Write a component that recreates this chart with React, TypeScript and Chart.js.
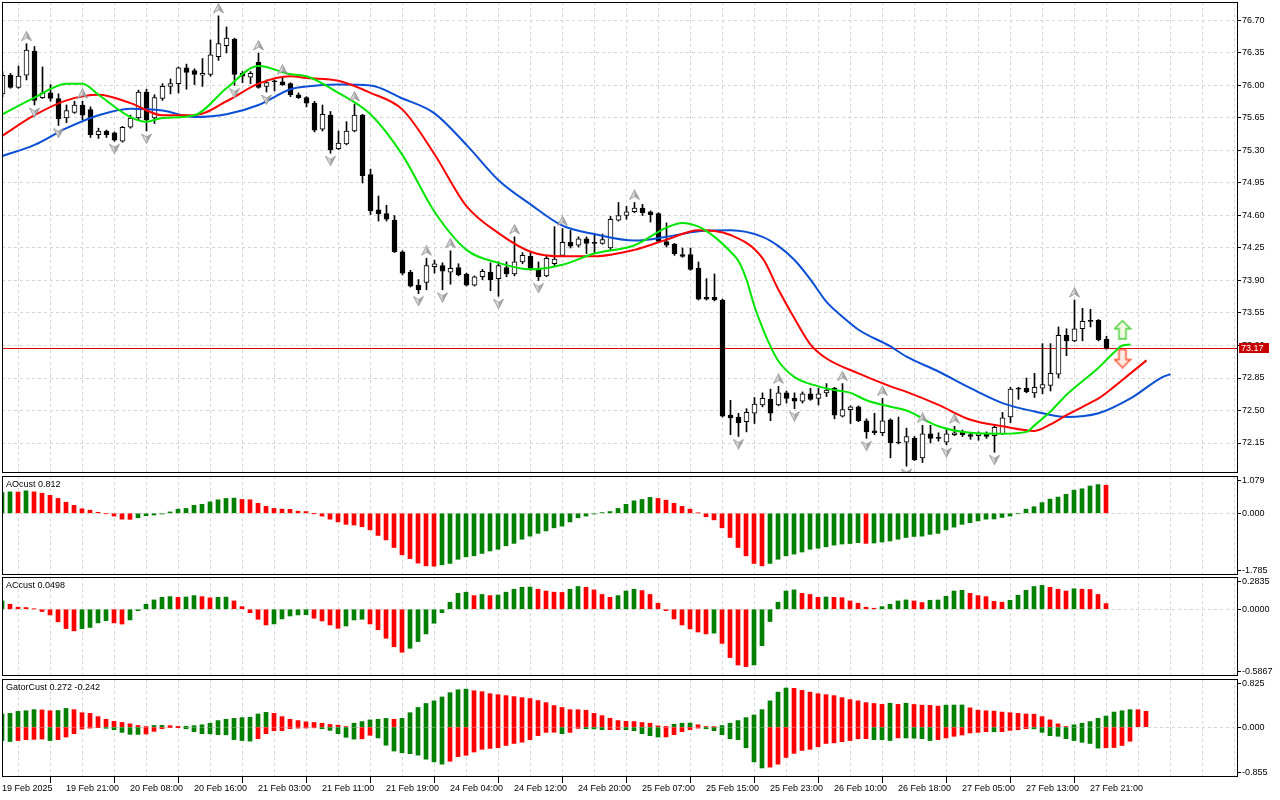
import { useEffect, useRef } from "react";
import { Chart, registerables } from "chart.js";

Chart.register(...registerables);

// ---- time axis (hourly bars, a label every 8 bars, grid every 4) ----
const timeLabels = [
  "19 Feb 2025", "19 Feb 21:00", "20 Feb 08:00", "20 Feb 16:00", "21 Feb 03:00",
  "21 Feb 11:00", "21 Feb 19:00", "24 Feb 04:00", "24 Feb 12:00", "24 Feb 20:00",
  "25 Feb 07:00", "25 Feb 15:00", "25 Feb 23:00", "26 Feb 10:00", "26 Feb 18:00",
  "27 Feb 05:00", "27 Feb 13:00", "27 Feb 21:00",
];
const LABEL_STEP = 8;
const GRID_STEP = 4;

// ---- candles ----
const opens = [
  75.91, 76.11, 75.98, 76.11, 76.37, 75.87, 75.92, 75.86, 75.65, 75.71,
  75.79, 75.74, 75.47, 75.51, 75.49, 75.40, 75.55, 75.65, 75.93, 75.65,
  75.86, 75.99, 76.02, 76.19, 76.16, 76.11, 76.12, 76.31, 76.43, 76.50,
  76.13, 76.09, 76.25, 75.99, 76.04, 76.04, 76.02, 75.90, 75.87, 75.81,
  75.53, 75.68, 75.32, 75.37, 75.51, 75.68, 75.04, 74.66, 74.62, 74.55,
  74.21, 73.99, 73.85, 73.88, 74.05, 74.06, 73.99, 74.04, 73.97, 73.85,
  73.94, 73.99, 73.92, 74.04, 73.97, 74.10, 74.16, 74.03, 73.95, 74.08,
  74.17, 74.31, 74.28, 74.35, 74.31, 74.30, 74.25, 74.55, 74.60, 74.64,
  74.68, 74.64, 74.62, 74.32, 74.29, 74.18, 74.18, 74.03, 73.72, 73.72,
  73.69, 72.45, 72.43, 72.38, 72.47, 72.56, 72.62, 72.56, 72.69, 72.63,
  72.60, 72.68, 72.63, 72.69, 72.74, 72.44, 72.51, 72.54, 72.39, 72.28,
  72.26, 72.40, 72.16, 72.16, 72.20, 71.99, 72.25, 72.20, 72.16, 72.24,
  72.27, 72.24, 72.23, 72.25, 72.23, 72.25, 72.43, 72.73, 72.74, 72.69,
  72.74, 72.77, 72.89, 73.31, 73.25, 73.38, 73.47, 73.47, 73.27,
];
const highs = [
  76.15, 76.13, 76.21, 76.45, 76.42, 76.20, 76.01, 75.91, 75.79, 75.83,
  75.83, 75.77, 75.54, 75.52, 75.50, 75.56, 75.68, 75.95, 75.96, 75.90,
  76.02, 76.07, 76.20, 76.23, 76.18, 76.29, 76.49, 76.75, 76.63, 76.51,
  76.15, 76.15, 76.35, 76.06, 76.06, 76.09, 76.03, 75.92, 75.88, 75.83,
  75.79, 75.72, 75.51, 75.61, 75.80, 75.69, 75.10, 74.81, 74.71, 74.60,
  74.22, 74.01, 73.91, 74.14, 74.12, 74.09, 74.22, 74.08, 73.98, 73.95,
  74.02, 74.09, 74.10, 74.10, 74.37, 74.20, 74.20, 74.10, 74.16, 74.48,
  74.46, 74.44, 74.37, 74.37, 74.39, 74.40, 74.59, 74.74, 74.70, 74.74,
  74.72, 74.65, 74.63, 74.52, 74.30, 74.25, 74.25, 74.10, 73.92, 73.97,
  73.70, 72.61, 72.47, 72.52, 72.64, 72.69, 72.73, 72.76, 72.71, 72.69,
  72.70, 72.74, 72.74, 72.79, 72.75, 72.79, 72.55, 72.55, 72.41, 72.47,
  72.63, 72.41, 72.43, 72.31, 72.22, 72.34, 72.34, 72.26, 72.30, 72.33,
  72.29, 72.26, 72.27, 72.27, 72.35, 72.48, 72.75, 72.75, 72.85, 72.90,
  73.22, 73.22, 73.40, 73.38, 73.69, 73.60, 73.59, 73.48, 73.30,
];
const lows = [
  75.88, 75.97, 75.97, 76.06, 75.79, 75.86, 75.83, 75.57, 75.60, 75.70,
  75.63, 75.44, 75.43, 75.44, 75.40, 75.39, 75.54, 75.63, 75.51, 75.59,
  75.84, 75.91, 75.92, 75.96, 76.01, 75.99, 76.10, 76.27, 76.35, 76.00,
  76.03, 76.02, 75.97, 75.93, 75.94, 76.00, 75.88, 75.86, 75.77, 75.50,
  75.51, 75.27, 75.31, 75.36, 75.50, 74.95, 74.61, 74.54, 74.54, 74.20,
  73.96, 73.83, 73.76, 73.80, 73.98, 73.80, 73.86, 73.95, 73.84, 73.84,
  73.91, 73.79, 73.73, 73.94, 73.95, 74.08, 74.01, 73.90, 73.94, 74.05,
  74.16, 74.25, 74.26, 74.19, 74.19, 74.29, 74.23, 74.54, 74.56, 74.63,
  74.60, 74.53, 74.31, 74.26, 74.17, 74.15, 74.01, 73.69, 73.69, 73.68,
  72.43, 72.24, 72.22, 72.27, 72.36, 72.54, 72.39, 72.55, 72.58, 72.52,
  72.58, 72.61, 72.56, 72.65, 72.41, 72.43, 72.36, 72.38, 72.20, 72.24,
  72.23, 71.99, 72.14, 71.90, 71.96, 71.94, 72.15, 72.17, 72.13, 72.23,
  72.22, 72.19, 72.18, 72.20, 72.05, 72.24, 72.37, 72.62, 72.69, 72.64,
  72.68, 72.71, 72.85, 73.09, 73.24, 73.25, 73.40, 73.25, 73.16,
];
const closes = [
  76.11, 75.98, 76.10, 76.38, 75.84, 75.92, 75.86, 75.64, 75.73, 75.79,
  75.68, 75.47, 75.51, 75.47, 75.41, 75.55, 75.65, 75.93, 75.63, 75.87,
  75.99, 76.02, 76.19, 76.14, 76.12, 76.13, 76.33, 76.45, 76.51, 76.12,
  76.10, 76.13, 75.98, 76.03, 76.04, 76.01, 75.90, 75.87, 75.81, 75.52,
  75.69, 75.31, 75.38, 75.51, 75.68, 75.03, 74.65, 74.62, 74.56, 74.21,
  73.98, 73.84, 73.80, 74.06, 74.08, 74.00, 74.03, 73.96, 73.85, 73.94,
  74.00, 73.91, 74.06, 73.97, 74.10, 74.17, 74.03, 73.94, 74.14, 74.13,
  74.31, 74.27, 74.35, 74.30, 74.30, 74.34, 74.56, 74.60, 74.64, 74.68,
  74.63, 74.61, 74.32, 74.28, 74.19, 74.16, 74.02, 73.70, 73.70, 73.69,
  72.44, 72.42, 72.37, 72.48, 72.57, 72.63, 72.47, 72.69, 72.63, 72.60,
  72.68, 72.62, 72.68, 72.72, 72.45, 72.51, 72.54, 72.39, 72.27, 72.26,
  72.39, 72.15, 72.15, 72.22, 71.97, 72.25, 72.20, 72.20, 72.25, 72.26,
  72.24, 72.22, 72.25, 72.22, 72.32, 72.42, 72.73, 72.73, 72.70, 72.75,
  72.78, 72.90, 73.31, 73.25, 73.38, 73.46, 73.46, 73.26, 73.17,
];

// ---- alligator (bar index -> price) ----
const jawBars = [0, 4, 8, 12, 16, 20, 24, 28, 32, 36, 38, 42, 46, 50, 54, 58, 62, 66, 70, 74, 79, 83, 87, 91, 95, 97, 99, 101, 103, 105, 107, 111, 113, 117, 121, 125, 129, 133, 137, 141, 145, 146];
const jawPrices = [75.24, 75.36, 75.54, 75.68, 75.75, 75.73, 75.66, 75.69, 75.79, 75.96, 75.99, 76.01, 76.00, 75.86, 75.70, 75.36, 74.98, 74.72, 74.49, 74.40, 74.33, 74.37, 74.43, 74.44, 74.37, 74.27, 74.12, 73.91, 73.67, 73.51, 73.37, 73.19, 73.08, 72.92, 72.74, 72.58, 72.49, 72.43, 72.47, 72.63, 72.86, 72.89];
const teethBars = [0, 4, 8, 12, 16, 20, 24, 28, 32, 36, 38, 42, 46, 50, 54, 58, 62, 66, 70, 74, 79, 83, 87, 91, 95, 97, 99, 101, 103, 107, 111, 113, 117, 121, 125, 129, 131, 133, 135, 137, 139, 141, 143];
const teethPrices = [75.46, 75.68, 75.84, 75.90, 75.81, 75.68, 75.68, 75.83, 76.02, 76.10, 76.08, 76.05, 75.92, 75.74, 75.26, 74.70, 74.41, 74.21, 74.16, 74.16, 74.23, 74.34, 74.44, 74.39, 74.14, 73.80, 73.49, 73.21, 73.06, 72.90, 72.76, 72.70, 72.56, 72.40, 72.33, 72.28, 72.35, 72.45, 72.54, 72.63, 72.76, 72.90, 73.04];
const lipsBars = [0, 4, 8, 10, 12, 16, 18, 20, 24, 28, 32, 36, 38, 42, 46, 50, 54, 58, 62, 66, 70, 74, 79, 83, 85, 87, 89, 91, 92, 93, 94, 95, 96, 97, 99, 102, 104, 106, 108, 111, 113, 117, 121, 125, 128, 129, 131, 133, 137, 139, 140, 141];
const lipsPrices = [75.69, 75.87, 76.02, 76.02, 75.90, 75.66, 75.61, 75.65, 75.68, 75.97, 76.21, 76.12, 76.10, 75.92, 75.69, 75.25, 74.64, 74.23, 74.09, 74.02, 74.07, 74.19, 74.28, 74.47, 74.52, 74.48, 74.37, 74.21, 74.11, 73.91, 73.62, 73.39, 73.19, 73.03, 72.86, 72.76, 72.72, 72.69, 72.61, 72.54, 72.50, 72.33, 72.26, 72.25, 72.27, 72.34, 72.49, 72.67, 72.96, 73.13, 73.20, 73.21];

// ---- fractals and signal arrows ----
const fractalUpBars = [3, 10, 27, 32, 35, 44, 53, 56, 64, 70, 79, 97, 105, 110, 115, 119, 134];
const fractalDownBars = [4, 7, 14, 18, 29, 33, 41, 52, 55, 62, 67, 92, 99, 108, 113, 118, 124];
const signalBars = [140];
const signalUpPrices = [73.37];
const signalDownPrices = [73.06];

const priceTicks = [72.15, 72.5, 72.85, 73.2, 73.55, 73.9, 74.25, 74.6, 74.95, 75.3, 75.65, 76.0, 76.35, 76.7];

// ---- AO ----
const aoValues = [
  0.60, 0.62, 0.615, 0.65, 0.62, 0.58, 0.52, 0.43, 0.32, 0.23,
  0.13, 0.09, 0.03, -0.01, -0.08, -0.17, -0.175, -0.13, -0.07, -0.05,
  -0.02, 0.04, 0.12, 0.14, 0.23, 0.26, 0.33, 0.39, 0.43, 0.44,
  0.40, 0.39, 0.29, 0.20, 0.14, 0.12, 0.115, 0.06, 0.05, -0.005,
  -0.08, -0.17, -0.25, -0.32, -0.34, -0.39, -0.48, -0.64, -0.77, -0.99,
  -1.20, -1.31, -1.44, -1.52, -1.53, -1.49, -1.45, -1.33, -1.26, -1.23,
  -1.16, -1.09, -1.04, -0.94, -0.87, -0.75, -0.66, -0.58, -0.51, -0.42,
  -0.37, -0.25, -0.13, -0.08, -0.02, 0.02, 0.05, 0.14, 0.26, 0.36,
  0.40, 0.46, 0.43, 0.38, 0.29, 0.20, 0.12, 0.01, -0.10, -0.19,
  -0.42, -0.70, -0.99, -1.23, -1.45, -1.52, -1.45, -1.33, -1.23, -1.18,
  -1.12, -1.04, -1.01, -0.97, -0.92, -0.89, -0.875, -0.85, -0.87, -0.86,
  -0.83, -0.80, -0.75, -0.70, -0.67, -0.66, -0.61, -0.58, -0.48, -0.40,
  -0.32, -0.27, -0.22, -0.17, -0.165, -0.12, -0.08, -0.01, 0.12, 0.19,
  0.31, 0.41, 0.47, 0.55, 0.67, 0.71, 0.79, 0.83, 0.812,
];
const aoRange = [-1.785, 1.079];

// ---- AC ----
const acValues = [
  0.073, 0.044, 0.018, 0.015, 0.003, -0.02, -0.05, -0.11, -0.17, -0.19,
  -0.17, -0.16, -0.12, -0.10, -0.12, -0.13, -0.094, -0.012, 0.044, 0.082,
  0.105, 0.111, 0.105, 0.108, 0.12, 0.111, 0.10, 0.105, 0.107, 0.073,
  0.023, -0.03, -0.088, -0.138, -0.129, -0.085, -0.059, -0.05, -0.048, -0.079,
  -0.103, -0.138, -0.167, -0.147, -0.094, -0.088, -0.129, -0.18, -0.255, -0.33,
  -0.378, -0.343, -0.284, -0.217, -0.123, -0.03, 0.062, 0.14, 0.15, 0.12,
  0.13, 0.12, 0.125, 0.15, 0.176, 0.193, 0.195, 0.176, 0.16, 0.15,
  0.148, 0.176, 0.2, 0.193, 0.17, 0.13, 0.105, 0.12, 0.16, 0.176,
  0.164, 0.13, 0.053, -0.012, -0.085, -0.138, -0.173, -0.2, -0.217, -0.21,
  -0.3, -0.425, -0.49, -0.504, -0.49, -0.32, -0.108, 0.062, 0.16, 0.17,
  0.14, 0.13, 0.105, 0.108, 0.105, 0.102, 0.073, 0.053, 0.018, 0.009,
  0.023, 0.044, 0.073, 0.082, 0.073, 0.059, 0.079, 0.081, 0.114, 0.16,
  0.167, 0.14, 0.12, 0.111, 0.07, 0.062, 0.079, 0.123, 0.167, 0.2,
  0.21, 0.193, 0.176, 0.16, 0.18, 0.176, 0.174, 0.13, 0.0498,
];
const acRange = [-0.5867, 0.2835];

// ---- Gator (upper = |jaw - teeth|, lower = -|teeth - lips|) ----
const gatorUp = [
  0.225, 0.236, 0.27, 0.28, 0.30, 0.295, 0.28, 0.285, 0.32, 0.30,
  0.247, 0.236, 0.18, 0.135, 0.10, 0.08, 0.056, 0.028, 0.01, 0.028,
  0.03, 0.025, 0.012, 0.015, 0.025, 0.04, 0.067, 0.112, 0.135, 0.15,
  0.163, 0.17, 0.225, 0.253, 0.236, 0.18, 0.135, 0.112, 0.09, 0.08,
  0.067, 0.045, 0.034, 0.01, 0.067, 0.095, 0.124, 0.135, 0.15, 0.135,
  0.15, 0.247, 0.337, 0.405, 0.45, 0.517, 0.59, 0.64, 0.652, 0.624,
  0.607, 0.573, 0.556, 0.54, 0.523, 0.506, 0.49, 0.455, 0.42, 0.37,
  0.337, 0.30, 0.298, 0.29, 0.236, 0.197, 0.152, 0.112, 0.10, 0.095,
  0.079, 0.067, 0.022, 0.012, 0.05, 0.067, 0.07, 0.04, 0.011, 0.004,
  0.028, 0.067, 0.112, 0.163, 0.208, 0.30, 0.45, 0.60, 0.67, 0.665,
  0.63, 0.60, 0.573, 0.556, 0.54, 0.506, 0.472, 0.45, 0.42, 0.405,
  0.39, 0.41, 0.39, 0.41, 0.388, 0.377, 0.374, 0.36, 0.377, 0.379,
  0.38, 0.33, 0.29, 0.28, 0.275, 0.258, 0.247, 0.236, 0.225, 0.222,
  0.18, 0.124, 0.056, 0.011, 0.04, 0.067, 0.095, 0.152, 0.19, 0.258,
  0.28, 0.30, 0.298, 0.272,
];
const gatorDown = [
  -0.23, -0.247, -0.23, -0.214, -0.21, -0.205, -0.23, -0.214, -0.17, -0.112,
  -0.034, -0.017, -0.005, -0.02, -0.045, -0.09, -0.124, -0.125, -0.118, -0.073,
  -0.028, -0.006, -0.004, -0.028, -0.079, -0.112, -0.115, -0.13, -0.132, -0.214,
  -0.23, -0.24, -0.197, -0.112, -0.062, -0.06, -0.028, -0.017, -0.015, -0.012,
  -0.028, -0.056, -0.112, -0.174, -0.205, -0.2, -0.14, -0.185, -0.31, -0.41,
  -0.44, -0.455, -0.48, -0.55, -0.596, -0.635, -0.585, -0.506, -0.483, -0.427,
  -0.38, -0.365, -0.354, -0.315, -0.28, -0.258, -0.214, -0.146, -0.09, -0.088,
  -0.112, -0.09, -0.022, -0.028, -0.03, -0.045, -0.044, -0.043, -0.045, -0.062,
  -0.112, -0.146, -0.17, -0.168, -0.13, -0.079, -0.045, -0.017, -0.028, -0.062,
  -0.13, -0.2, -0.214, -0.354, -0.596, -0.70, -0.686, -0.635, -0.52, -0.45,
  -0.40, -0.38, -0.337, -0.28, -0.27, -0.25, -0.23, -0.20, -0.198, -0.214,
  -0.215, -0.23, -0.185, -0.186, -0.19, -0.197, -0.23, -0.214, -0.185, -0.157,
  -0.135, -0.10, -0.09, -0.079, -0.08, -0.078, -0.056, -0.045, -0.028, -0.03,
  -0.09, -0.146, -0.157, -0.197, -0.23, -0.26, -0.28, -0.36, -0.354, -0.35,
  -0.315, -0.242,
];
const gatorRange = [-0.855, 0.825];

// ---- look ----
const FONT = { family: "'Liberation Sans', Arial, sans-serif", size: 9 };
const GRID = "#d6d6d6";
const UP = "#008000";
const DOWN = "#ff0000";
const AXIS_W = 43;
const X_MIN = -0.0625;
const X_MAX = 154.3125;
const Y_MIN = 71.827;
const Y_MAX = 76.899;

const upDown = (vals: number[], mag = false) =>
  vals.map((v, i) => {
    if (i === 0) return UP;
    const a = mag ? Math.abs(v) : v;
    const b = mag ? Math.abs(vals[i - 1]) : vals[i - 1];
    return a > b ? UP : DOWN;
  });

const timeLabelAt = (v: number) =>
  v % LABEL_STEP === 0 ? timeLabels[v / LABEL_STEP] ?? "" : "";

// scales must not ask the layout for extra room around the plot
const noPad = (s: any) => {
  s.paddingTop = 0;
  s.paddingBottom = 0;
  s.paddingLeft = 0;
  s.paddingRight = 0;
};

function xAxis(withLabels: boolean, shift: number): any {
  return {
    type: "linear",
    min: X_MIN + shift,
    max: X_MAX + shift,
    offset: false,
    afterBuildTicks: (s: any) => {
      const t: any[] = [];
      for (let v = 0; v <= X_MAX; v += GRID_STEP) t.push({ value: v });
      s.ticks = t;
    },
    afterFit: (s: any) => {
      s.height = withLabels ? 23 : 0;
      noPad(s);
    },
    grid: {
      color: GRID,
      drawTicks: withLabels,
      tickLength: 6,
      tickColor: (c: any) =>
        c.tick && timeLabelAt(c.tick.value) !== "" ? "#000" : "rgba(0,0,0,0)",
      tickBorderDash: [],
    },
    border: { display: false, dash: [3, 3] },
    ticks: {
      display: withLabels,
      autoSkip: false,
      maxRotation: 0,
      minRotation: 0,
      align: "start",
      padding: 0,
      color: "#000",
      font: FONT,
      callback: (v: number) => timeLabelAt(v),
    },
  };
}

function subY(range: number[], digits: number): any {
  const [min, max] = range;
  return {
    type: "linear",
    position: "right",
    min,
    max,
    afterBuildTicks: (s: any) => {
      const inset = ((max - min) * 4.5) / 99;
      s.ticks = [{ value: min + inset }, { value: 0 }, { value: max - inset }];
    },
    afterFit: (s: any) => {
      s.width = AXIS_W;
      noPad(s);
    },
    grid: {
      color: (c: any) => (c.tick && c.tick.value === 0 ? GRID : "rgba(0,0,0,0)"),
      tickLength: 4,
      tickColor: "#000",
      tickBorderDash: [],
    },
    border: { display: false, dash: [3, 3] },
    ticks: {
      autoSkip: false,
      padding: 1,
      color: "#000",
      font: FONT,
      callback: (_v: number, i: number) => [min, 0, max][i].toFixed(digits),
    },
  };
}

const framePlugin = {
  id: "frame",
  afterDraw(chart: any) {
    const { ctx, chartArea: a } = chart;
    ctx.save();
    ctx.strokeStyle = "#000";
    ctx.lineWidth = 1;
    ctx.strokeRect(a.left + 0.5, a.top + 0.5, a.right - a.left, a.bottom - a.top - 1);
    ctx.restore();
  },
};

const titlePlugin = (text: string) => ({
  id: "panelTitle",
  afterDraw(chart: any) {
    const { ctx, chartArea: a } = chart;
    ctx.save();
    ctx.fillStyle = "#000";
    ctx.font = `${FONT.size}px ${FONT.family}`;
    ctx.textBaseline = "middle";
    ctx.fillText(text, a.left + 4, a.top + 9);
    ctx.restore();
  },
});

const lastClose = closes[closes.length - 1];

const lastPricePlugin = {
  id: "lastPrice",
  beforeDatasetsDraw(chart: any) {
    const { ctx, chartArea: a } = chart;
    const y = Math.round(chart.scales.y.getPixelForValue(lastClose)) + 0.5;
    ctx.save();
    ctx.strokeStyle = "#e00000";
    ctx.lineWidth = 1;
    ctx.beginPath();
    ctx.moveTo(a.left, y);
    ctx.lineTo(a.right, y);
    ctx.stroke();
    ctx.restore();
  },
  afterDraw(chart: any) {
    const { ctx, chartArea: a } = chart;
    const y = Math.round(chart.scales.y.getPixelForValue(lastClose));
    ctx.save();
    ctx.fillStyle = "#c80000";
    ctx.fillRect(a.right + 2, y - 5, 30, 10);
    ctx.fillStyle = "#fff";
    ctx.font = `${FONT.size}px ${FONT.family}`;
    ctx.textBaseline = "middle";
    ctx.fillText(lastClose.toFixed(2), a.right + 4, y + 0.5);
    ctx.restore();
  },
};

function fractalImage(up: boolean) {
  const c = document.createElement("canvas");
  c.width = 11;
  c.height = 26;
  const g = c.getContext("2d")!;
  if (!up) {
    g.translate(0, 26);
    g.scale(1, -1);
  }
  const shape = () => {
    g.beginPath();
    g.moveTo(5.5, 0.5);
    g.lineTo(10.5, 10);
    g.lineTo(5.5, 7);
    g.lineTo(0.5, 10);
    g.closePath();
  };
  shape();
  g.fillStyle = "#a6a6a6";
  g.fill();
  g.beginPath();
  g.moveTo(5.5, 0.5);
  g.lineTo(5.5, 7);
  g.lineTo(0.5, 10);
  g.closePath();
  g.fillStyle = "#dadada";
  g.fill();
  shape();
  g.strokeStyle = "#8a8a8a";
  g.lineWidth = 0.7;
  g.stroke();
  return c;
}

function signalImage(up: boolean, stroke: string, fill: string) {
  const c = document.createElement("canvas");
  c.width = 18;
  c.height = 20;
  const g = c.getContext("2d")!;
  if (!up) {
    g.translate(0, 20);
    g.scale(1, -1);
  }
  g.beginPath();
  g.moveTo(9, 1);
  g.lineTo(17, 9);
  g.lineTo(12.5, 9);
  g.lineTo(12.5, 19);
  g.lineTo(5.5, 19);
  g.lineTo(5.5, 9);
  g.lineTo(1, 9);
  g.closePath();
  g.fillStyle = fill;
  g.fill();
  g.strokeStyle = stroke;
  g.lineWidth = 1.5;
  g.stroke();
  return c;
}

const baseOptions = (padTop: number, padBottom: number): any => ({
  responsive: false,
  animation: false,
  events: [],
  layout: { autoPadding: false, padding: { left: 2, right: 0, top: padTop, bottom: padBottom } },
  plugins: { legend: { display: false }, tooltip: { enabled: false } },
});

function histogram(values: number[], colors: string[]) {
  return {
    type: "bar",
    data: values.map((v, i) => ({ x: i, y: v })),
    backgroundColor: colors,
    borderWidth: 0,
    barThickness: 4,
    grouped: false,
  };
}

export default function App() {
  const mainRef = useRef<HTMLCanvasElement | null>(null);
  const aoRef = useRef<HTMLCanvasElement | null>(null);
  const acRef = useRef<HTMLCanvasElement | null>(null);
  const gatorRef = useRef<HTMLCanvasElement | null>(null);

  useEffect(() => {
    if (!mainRef.current || !aoRef.current || !acRef.current || !gatorRef.current) return;
    const bars = closes.map((_, i) => i);
    const charts: Chart[] = [];

    charts.push(
      new Chart(mainRef.current, {
        type: "bar",
        data: {
          datasets: [
            {
              type: "scatter",
              data: signalBars.map((b, i) => ({ x: b, y: signalUpPrices[i] })),
              pointStyle: signalImage(true, "#4ccf3c", "#f2fbe4"),
              pointRadius: 8,
              order: 0,
            },
            {
              type: "scatter",
              data: signalBars.map((b, i) => ({ x: b, y: signalDownPrices[i] })),
              pointStyle: signalImage(false, "#ff5533", "#ffece6"),
              pointRadius: 8,
              order: 0,
            },
            {
              type: "scatter",
              data: fractalUpBars.map((b) => ({ x: b, y: highs[b] })),
              pointStyle: fractalImage(true),
              pointRadius: 5,
              order: 0,
            },
            {
              type: "scatter",
              data: fractalDownBars.map((b) => ({ x: b, y: lows[b] })),
              pointStyle: fractalImage(false),
              pointRadius: 5,
              order: 0,
            },
            {
              type: "line",
              data: lipsBars.map((b, i) => ({ x: b, y: lipsPrices[i] })),
              borderColor: "#00e600",
              borderWidth: 2,
              pointRadius: 0,
              cubicInterpolationMode: "monotone",
              order: 1,
            },
            {
              type: "line",
              data: teethBars.map((b, i) => ({ x: b, y: teethPrices[i] })),
              borderColor: "#ff0000",
              borderWidth: 2,
              pointRadius: 0,
              cubicInterpolationMode: "monotone",
              order: 1,
            },
            {
              type: "line",
              data: jawBars.map((b, i) => ({ x: b, y: jawPrices[i] })),
              borderColor: "#0a4fd6",
              borderWidth: 2,
              pointRadius: 0,
              cubicInterpolationMode: "monotone",
              order: 1,
            },
            {
              type: "bar",
              data: bars.map((i) => ({ x: i, y: [opens[i], closes[i]] })),
              backgroundColor: bars.map((i) => (closes[i] > opens[i] ? "#ffffff" : "#000000")),
              borderColor: "#000",
              borderWidth: 1,
              borderSkipped: false,
              barThickness: 5,
              minBarLength: 1,
              grouped: false,
              order: 2,
            },
            {
              type: "bar",
              data: bars.map((i) => ({ x: i, y: [lows[i], highs[i]] })),
              backgroundColor: "#000",
              borderWidth: 0,
              barThickness: 1,
              grouped: false,
              order: 3,
            },
          ] as any,
        },
        options: {
          ...baseOptions(2, 2),
          scales: {
            x: xAxis(false, 0),
            y: {
              type: "linear",
              position: "right",
              min: Y_MIN,
              max: Y_MAX,
              afterBuildTicks: (s: any) => {
                s.ticks = priceTicks.map((v) => ({ value: v }));
              },
              afterFit: (s: any) => {
                s.width = AXIS_W;
                noPad(s);
              },
              grid: { color: GRID, tickLength: 4, tickColor: "#000", tickBorderDash: [] },
              border: { display: false, dash: [3, 3] },
              ticks: {
                autoSkip: false,
                padding: 1,
                color: "#000",
                font: FONT,
                callback: (v: any) => Number(v).toFixed(2),
              },
            },
          },
        } as any,
        plugins: [lastPricePlugin, framePlugin],
      })
    );

    charts.push(
      new Chart(aoRef.current, {
        type: "bar",
        data: { datasets: [histogram(aoValues, upDown(aoValues))] as any },
        options: {
          ...baseOptions(1, 1),
          scales: { x: xAxis(false, 0.0625), y: subY(aoRange, 3) },
        } as any,
        plugins: [framePlugin, titlePlugin(`AOcust ${aoValues[aoValues.length - 1]}`)],
      })
    );

    charts.push(
      new Chart(acRef.current, {
        type: "bar",
        data: { datasets: [histogram(acValues, upDown(acValues))] as any },
        options: {
          ...baseOptions(1, 1),
          scales: { x: xAxis(false, 0.0625), y: subY(acRange, 4) },
        } as any,
        plugins: [framePlugin, titlePlugin(`ACcust ${acValues[acValues.length - 1]}`)],
      })
    );

    charts.push(
      new Chart(gatorRef.current, {
        type: "bar",
        data: {
          datasets: [
            histogram(gatorUp, upDown(gatorUp)),
            histogram(gatorDown, upDown(gatorDown, true)),
          ] as any,
        },
        options: {
          ...baseOptions(2, 0),
          scales: { x: xAxis(true, 0.0625), y: subY(gatorRange, 3) },
        } as any,
        plugins: [
          framePlugin,
          titlePlugin(
            `GatorCust ${gatorUp[gatorUp.length - 1]} ${gatorDown[gatorDown.length - 1]}`
          ),
        ],
      })
    );

    return () => charts.forEach((c) => c.destroy());
  }, []);

  const panel = (top: number, height: number, ref: any) => (
    <div style={{ position: "absolute", left: 0, top, width: 1280, height }}>
      <canvas ref={ref} width={1280} height={height} style={{ display: "block" }} />
    </div>
  );

  return (
    <div
      style={{
        position: "absolute",
        left: 0,
        top: 0,
        width: 1280,
        height: 800,
        background: "#fff",
        overflow: "hidden",
      }}
    >
      {panel(0, 475, mainRef)}
      {panel(475, 101, aoRef)}
      {panel(576, 101, acRef)}
      {panel(677, 123, gatorRef)}
    </div>
  );
}
